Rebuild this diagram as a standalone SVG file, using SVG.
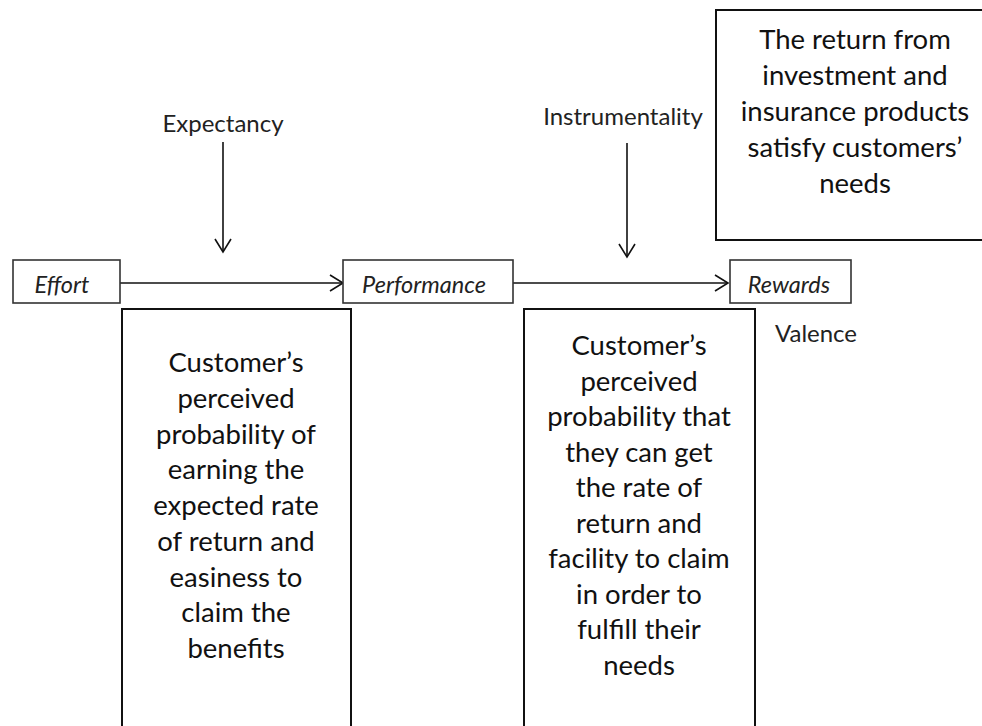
<svg xmlns="http://www.w3.org/2000/svg" width="982" height="726" viewBox="0 0 982 726">
<defs>
<marker id="arr" markerUnits="userSpaceOnUse" markerWidth="20" markerHeight="20" refX="14" refY="9" orient="auto" overflow="visible">
<path d="M1,1 L14,9 L1,17" fill="none" stroke="#111" stroke-width="1.6"/>
</marker>
<style>
.box{fill:#fff;stroke:#111;stroke-width:2}
.nbox{fill:#fff;stroke:#333;stroke-width:1.6}
.body{font-family:Lato,"Liberation Sans",sans-serif;font-size:27.5px;fill:#111;text-anchor:middle}
.lbl{font-family:Lato,"Liberation Sans",sans-serif;font-size:24px;fill:#222}
.it{font-style:italic;text-anchor:middle;font-size:23.5px}
.conn{stroke:#111;stroke-width:1.6;fill:none;marker-end:url(#arr)}
</style>
</defs>
<rect width="982" height="726" fill="#fff"/>
<g id="connectors">
<line class="conn" x1="120" y1="283" x2="343" y2="283"/>
<line class="conn" x1="513" y1="283" x2="728" y2="283"/>
<line class="conn" x1="223" y1="142" x2="223" y2="252"/>
<line class="conn" x1="627" y1="143" x2="627" y2="257"/>
</g>
<g id="effort">
<rect class="nbox" x="13" y="260" width="107" height="43"/>
<text class="lbl it" x="62" y="293">Effort</text>
</g>
<g id="performance">
<rect class="nbox" x="343" y="260" width="170" height="43"/>
<text class="lbl it" x="424" y="293">Performance</text>
</g>
<g id="rewards">
<rect class="nbox" x="730" y="260" width="121" height="43"/>
<text class="lbl it" x="789" y="293">Rewards</text>
</g>
<g id="expectancy">
<text class="lbl" x="223" y="132" text-anchor="middle">Expectancy</text>
</g>
<g id="instrumentality">
<text class="lbl" x="623" y="125" text-anchor="middle">Instrumentality</text>
</g>
<g id="valence">
<text class="lbl" x="816" y="342" text-anchor="middle">Valence</text>
</g>
<g id="valence-box">
<rect class="box" x="716" y="10" width="280" height="230"/>
<text class="body" x="855" y="49">The return from</text>
<text class="body" x="855" y="85">investment and</text>
<text class="body" x="855" y="121">insurance products</text>
<text class="body" x="855" y="157">satisfy customers’</text>
<text class="body" x="855" y="193">needs</text>
</g>
<g id="expectancy-box">
<rect class="box" x="122" y="309" width="229" height="430"/>
<text class="body" x="236" y="372">Customer’s</text>
<text class="body" x="236" y="407.75">perceived</text>
<text class="body" x="236" y="443.5">probability of</text>
<text class="body" x="236" y="479.25">earning the</text>
<text class="body" x="236" y="515">expected rate</text>
<text class="body" x="236" y="550.75">of return and</text>
<text class="body" x="236" y="586.5">easiness to</text>
<text class="body" x="236" y="622.25">claim the</text>
<text class="body" x="236" y="658">benefits</text>
</g>
<g id="instrumentality-box">
<rect class="box" x="524" y="309" width="231" height="430"/>
<text class="body" x="639" y="355">Customer’s</text>
<text class="body" x="639" y="390.6">perceived</text>
<text class="body" x="639" y="426.1">probability that</text>
<text class="body" x="639" y="461.7">they can get</text>
<text class="body" x="639" y="497.2">the rate of</text>
<text class="body" x="639" y="532.8">return and</text>
<text class="body" x="639" y="568.3">facility to claim</text>
<text class="body" x="639" y="603.9">in order to</text>
<text class="body" x="639" y="639.4">fulfill their</text>
<text class="body" x="639" y="675">needs</text>
</g>
</svg>
